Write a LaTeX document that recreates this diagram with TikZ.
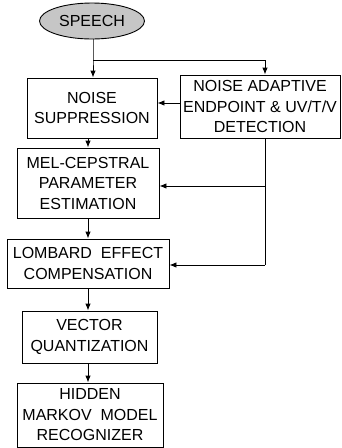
\documentclass[tikz,border=0pt]{standalone}
\usepackage{fontspec}
\setmainfont{Liberation Sans}
\usetikzlibrary{shapes.geometric,arrows.meta,calc}
\begin{document}
\begin{tikzpicture}[x=1pt,y=-1pt,
  box/.style={draw,line width=0.9pt,rectangle,inner sep=0pt,align=center,
    font=\fontsize{16}{20.5}\selectfont},
  conn/.style={line width=0.9pt},
  arr/.style={conn,-{Latex[length=7pt,width=5.5pt]}}]
\useasboundingbox (0,0) rectangle (341,448);
\node[draw,line width=0.9pt,ellipse,fill=gray!45,minimum width=105pt,minimum height=36pt,inner sep=0pt,
  font=\fontsize{16}{20}\selectfont] (speech) at (92,21) {SPEECH};
\node[box,minimum width=130pt,minimum height=60pt] (ns) at (92,108) {NOISE\\SUPPRESSION};
\node[box,minimum width=160pt,minimum height=63pt] (nae) at (260,106.5) {NOISE ADAPTIVE\\ENDPOINT \& UV/T/V\\DETECTION};
\node[box,minimum width=142pt,minimum height=70pt] (mel) at (88,183) {MEL-CEPSTRAL\\PARAMETER\\ESTIMATION};
\node[box,minimum width=162pt,minimum height=49pt] (lec) at (88,263.5) {LOMBARD\ \ EFFECT\\COMPENSATION};
\node[box,minimum width=135pt,minimum height=52pt] (vq) at (89.5,337) {VECTOR\\QUANTIZATION};
\node[box,minimum width=146pt,minimum height=64pt] (hmm) at (90,415) {HIDDEN\\MARKOV\ \ MODEL\\RECOGNIZER};
\coordinate (br) at (93,60);
\coordinate (brr) at (265,60);
\coordinate (d1) at (265,186);
\coordinate (d2) at (265,265);
\draw[arr] (speech.south -| br) -- (br) -- (br |- ns.north);
\draw[arr] (br) -- (brr) -- (brr |- nae.north);
\draw[arr] (nae.west |- 0,103) -- (ns.east |- 0,103);
\draw[conn] (nae.south -| d1) -- (d2);
\draw[arr] (d1) -- (mel.east |- d1);
\draw[arr] (d2) -- (lec.east |- d2);
\draw[arr] (mel.north |- ns.south) -- (mel.north);
\draw[arr] (mel.south) -- (lec.north);
\draw[arr] (lec.south) -- (lec.south |- vq.north);
\draw[arr] (vq.south -| lec.south) -- (lec.south |- hmm.north);
\end{tikzpicture}
\end{document}
